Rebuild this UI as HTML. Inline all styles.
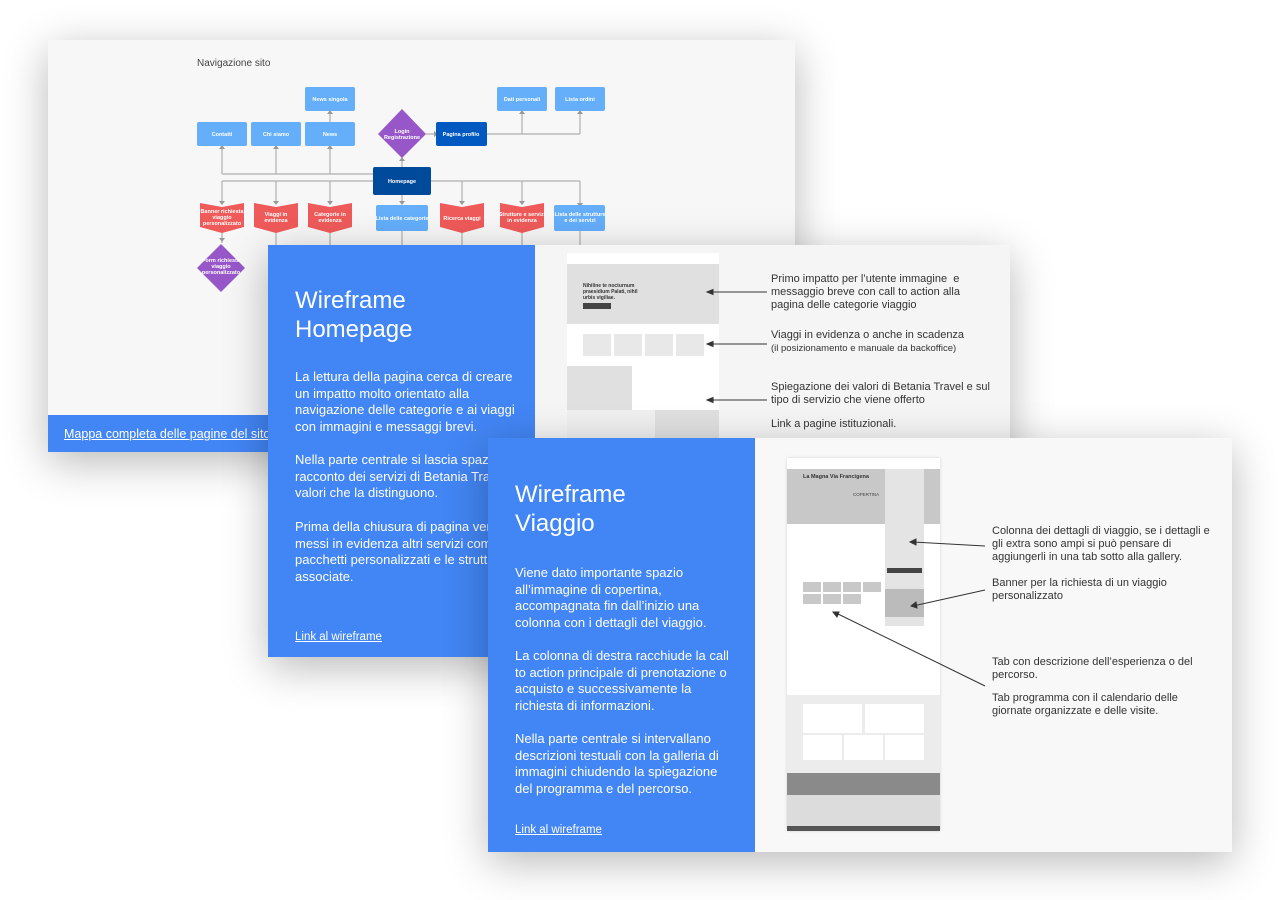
<!DOCTYPE html>
<html><head><meta charset="utf-8"><style>
body{margin:0;width:1280px;height:900px;background:#fff;position:relative;overflow:hidden;font-family:"Liberation Sans",sans-serif}
.card{position:absolute;box-shadow:0 10px 40px rgba(0,0,0,0.28)}
.blue{position:absolute;background:#4285f4;color:#fff;overflow:hidden}
.blue h1{position:absolute;margin:0;font-weight:normal;font-size:24px;line-height:29px}
.blue p{position:absolute;margin:0;font-size:13px;line-height:16.5px;width:215px}
.blue a{position:absolute;color:#fff;text-decoration:underline;font-size:11.5px}
.ann{position:absolute;font-size:11px;line-height:13px;color:#333}
.g{position:absolute;background:#d9d9d9}
.w{position:absolute;background:#fff}
</style></head><body>

<!-- Card 1 -->
<div class="card" style="left:48px;top:40px;width:747px;height:412px;background:#f7f7f7">
<svg width="747" height="412" style="position:absolute;left:0;top:0" font-family="Liberation Sans" font-size="5.5" font-weight="bold" fill="#fff" text-anchor="middle">
<g transform="translate(-48,-40)" stroke="#b0b0b0" stroke-width="1.2" fill="none">
<path d="M222 174H373M276 174V148M330 174V148M222 174V148M330 122V113M402 167V160M426 134H434M487 134H580M522 134V113M580 134V113"/>
<path d="M222 181H580M222 181V203M276 181V203M330 181V203M402 195V203M462 181V203M522 181V203M580 181V205M222 231V243M276 231V245M330 231V245M402 231V245M462 231V245M522 231V245M580 231V245"/>
</g>
<g transform="translate(-48,-40)" fill="#999">
<path d="M219 149h6l-3 -4zM273 149h6l-3 -4zM327 149h6l-3 -4zM327 114h6l-3 -4zM399 161h6l-3 -4zM519 114h6l-3 -4zM577 114h6l-3 -4zM434 131v6l4 -3zM219 201h6l-3 4zM273 201h6l-3 4zM327 201h6l-3 4zM399 201h6l-3 4zM459 201h6l-3 4zM519 201h6l-3 4zM577 203h6l-3 4zM219 238h6l-3 4z"/>
</g>
<g transform="translate(-48,-40)">
<text x="197" y="66" font-size="10" font-weight="normal" fill="#444" text-anchor="start">Navigazione sito</text>
<rect x="305" y="87" width="50" height="24" rx="2" fill="#64aefa"/><text x="330" y="101">News singola</text>
<rect x="197" y="122" width="50" height="24" rx="2" fill="#64aefa"/><text x="222" y="136">Contatti</text>
<rect x="251" y="122" width="50" height="24" rx="2" fill="#64aefa"/><text x="276" y="136">Chi siamo</text>
<rect x="305" y="122" width="50" height="24" rx="2" fill="#64aefa"/><text x="330" y="136">News</text>
<path d="M402 109L426 134L402 158L378 134Z" fill="#9757c9"/><text x="402" y="133">Login</text><text x="402" y="139">Registrazione</text>
<rect x="436" y="122" width="51" height="24" rx="2" fill="#0059c1"/><text x="461" y="136">Pagina profilo</text>
<rect x="497" y="87" width="50" height="24" rx="2" fill="#64aefa"/><text x="522" y="101">Dati personali</text>
<rect x="555" y="87" width="50" height="24" rx="2" fill="#64aefa"/><text x="580" y="101">Lista ordini</text>
<rect x="373" y="167" width="58" height="28" rx="2" fill="#004a9c"/><text x="402" y="183">Homepage</text>
<path d="M200 203L222 207L244 203V227L222 233L200 227Z" fill="#ef5a5a"/><text x="222" y="213">Banner richiesta</text><text x="222" y="219">viaggio</text><text x="222" y="225">personalizzato</text>
<path d="M254 203L276 207L298 203V227L276 233L254 227Z" fill="#ef5a5a"/><text x="276" y="216">Viaggi in</text><text x="276" y="222">evidenza</text>
<path d="M308 203L330 207L352 203V227L330 233L308 227Z" fill="#ef5a5a"/><text x="330" y="216">Categorie in</text><text x="330" y="222">evidenza</text>
<rect x="376" y="205" width="52" height="26" rx="2" fill="#64aefa"/><text x="402" y="220">Lista delle categorie</text>
<path d="M440 203L462 207L484 203V227L462 233L440 227Z" fill="#ef5a5a"/><text x="462" y="220">Ricerca viaggi</text>
<path d="M500 203L522 207L544 203V227L522 233L500 227Z" fill="#ef5a5a"/><text x="522" y="216">Strutture e servizi</text><text x="522" y="222">in evidenza</text>
<rect x="554" y="205" width="51" height="26" rx="2" fill="#64aefa"/><text x="580" y="216">Lista delle strutture</text><text x="580" y="222">e dei servizi</text>
<path d="M221 244L245 268L221 292L197 268Z" fill="#9757c9"/><text x="221" y="262">Form richiesta</text><text x="221" y="268">viaggio</text><text x="221" y="274">personalizzato</text>
</g></svg>
<div style="position:absolute;left:0;top:375px;width:747px;height:37px;background:#4285f4"></div>
<a style="position:absolute;left:16px;top:387px;color:#fff;font-size:12.5px;text-decoration:underline">Mappa completa delle pagine del sito</a>
</div>

<!-- Card 2 -->
<div class="card" style="left:268px;top:245px;width:742px;height:412px;background:#f5f5f5">
<div class="blue" style="left:0;top:0;width:267px;height:412px">
<h1 style="left:27px;top:41px">Wireframe<br>Homepage</h1>
<p style="left:27px;top:124px;width:232px">La lettura della pagina cerca di creare un impatto molto orientato alla navigazione delle categorie e ai viaggi con immagini e messaggi brevi.</p>
<p style="left:27px;top:207px;width:260px">Nella parte centrale si lascia spazio al racconto dei servizi di Betania Travel e dei valori che la distinguono.</p>
<p style="left:27px;top:274px;width:250px">Prima della chiusura di pagina vengono messi in evidenza altri servizi come i pacchetti personalizzati e le strutture associate.</p>
<a style="left:27px;top:386px">Link al wireframe</a>
</div>
<div style="position:absolute;left:267px;top:0;width:475px;height:412px;background:#f5f5f5"></div>
<div class="w" style="left:299px;top:8px;width:152px;height:187px">
<div class="g" style="left:0;top:11px;width:152px;height:60px;background:#e0e0e0"></div>
<div style="position:absolute;left:16px;top:30px;font-size:5px;font-weight:bold;color:#333;line-height:6px">Nihiline te nocturnum<br>praesidium Palati, nihil<br>urbis vigiliae.</div>
<div style="position:absolute;left:16px;top:50px;width:28px;height:6px;background:#444"></div>
<div class="g" style="left:16px;top:81px;width:28px;height:22px;background:#e8e8e8"></div>
<div class="g" style="left:47px;top:81px;width:28px;height:22px;background:#e8e8e8"></div>
<div class="g" style="left:78px;top:81px;width:28px;height:22px;background:#e8e8e8"></div>
<div class="g" style="left:109px;top:81px;width:28px;height:22px;background:#e8e8e8"></div>
<div class="g" style="left:0;top:113px;width:65px;height:44px;background:#e0e0e0"></div>
<div class="g" style="left:0;top:157px;width:152px;height:30px;background:#f0f0f0"></div>
<div class="g" style="left:88px;top:157px;width:64px;height:30px;background:#e0e0e0"></div>
</div>
<svg width="742" height="412" style="position:absolute;left:0;top:0"><g stroke="#333" stroke-width="1" fill="#333">
<path d="M442 47H499M442 99H499M442 155H499"/><path d="M439 47l6-2.5v5zM439 99l6-2.5v5zM439 155l6-2.5v5z"/></g></svg>
<div class="ann" style="left:503px;top:28px">Primo impatto per l’utente immagine &nbsp;e<br>messaggio breve con call to action alla<br>pagina delle categorie viaggio</div>
<div class="ann" style="left:503px;top:84px">Viaggi in evidenza o anche in scadenza<br><span style="font-size:9.5px">(il posizionamento e manuale da backoffice)</span></div>
<div class="ann" style="left:503px;top:136px">Spiegazione dei valori di Betania Travel e sul<br>tipo di servizio che viene offerto</div>
<div class="ann" style="left:503px;top:173px">Link a pagine istituzionali.</div>
</div>

<!-- Card 3 -->
<div class="card" style="left:488px;top:438px;width:744px;height:414px;background:#f8f8f8">
<div class="blue" style="left:0;top:0;width:267px;height:414px">
<h1 style="left:27px;top:42px">Wireframe<br>Viaggio</h1>
<p style="left:27px;top:127px;width:205px">Viene dato importante spazio all’immagine di copertina, accompagnata fin dall’inizio una colonna con i dettagli del viaggio.</p>
<p style="left:27px;top:210px;width:215px">La colonna di destra racchiude la call to action principale di prenotazione o acquisto e successivamente la richiesta di informazioni.</p>
<p style="left:27px;top:293px;width:205px">Nella parte centrale si intervallano descrizioni testuali con la galleria di immagini chiudendo la spiegazione del programma e del percorso.</p>
<a style="left:27px;top:386px">Link al wireframe</a>
</div>
<div class="w" style="left:299px;top:20px;width:153px;height:373px;box-shadow:0 0 3px rgba(0,0,0,.15)">
<div class="g" style="left:0;top:11px;width:153px;height:55px;background:#c8c8c8"></div>
<div style="position:absolute;left:16px;top:16px;font-size:5.5px;font-weight:bold;color:#333">La Magna Via Francigena</div>
<div style="position:absolute;left:66px;top:34px;font-size:4.5px;color:#444">COPERTINA</div>
<div class="g" style="left:98px;top:11px;width:39px;height:157px;background:#e4e4e4"></div>
<div class="g" style="left:100px;top:110px;width:35px;height:5px;background:#444"></div>
<div class="g" style="left:98px;top:131px;width:39px;height:28px;background:#bbb"></div>
<div class="g" style="left:16px;top:124px;width:18px;height:10px;background:#c8c8c8"></div>
<div class="g" style="left:36px;top:124px;width:18px;height:10px;background:#c8c8c8"></div>
<div class="g" style="left:56px;top:124px;width:18px;height:10px;background:#c8c8c8"></div>
<div class="g" style="left:76px;top:124px;width:18px;height:10px;background:#c8c8c8"></div>
<div class="g" style="left:16px;top:136px;width:18px;height:10px;background:#c8c8c8"></div>
<div class="g" style="left:36px;top:136px;width:18px;height:10px;background:#c8c8c8"></div>
<div class="g" style="left:56px;top:136px;width:18px;height:10px;background:#c8c8c8"></div>
<div class="g" style="left:0;top:237px;width:153px;height:78px;background:#ececec"></div>
<div class="w" style="left:16px;top:246px;width:59px;height:29px"></div>
<div class="w" style="left:78px;top:246px;width:59px;height:29px"></div>
<div class="w" style="left:16px;top:277px;width:39px;height:25px"></div>
<div class="w" style="left:57px;top:277px;width:39px;height:25px"></div>
<div class="w" style="left:98px;top:277px;width:39px;height:25px"></div>
<div class="g" style="left:0;top:315px;width:153px;height:22px;background:#8a8a8a"></div>
<div class="g" style="left:0;top:337px;width:153px;height:31px;background:#dcdcdc"></div>
<div class="g" style="left:0;top:368px;width:153px;height:5px;background:#555"></div>
</div>
<svg width="744" height="414" style="position:absolute;left:0;top:0"><g stroke="#333" stroke-width="1" fill="#333">
<path d="M425 104L497 108M425 168L497 152M348 175L497 248"/>
<path d="M422 104l6-3v6zM423 168l5-4 1 6zM345 174l6 0-2 5z"/></g></svg>
<div class="ann" style="left:504px;top:87px">Colonna dei dettagli di viaggio, se i dettagli e<br>gli extra sono ampi si può pensare di<br>aggiungerli in una tab sotto alla gallery.</div>
<div class="ann" style="left:504px;top:139px">Banner per la richiesta di un viaggio<br>personalizzato</div>
<div class="ann" style="left:504px;top:218px">Tab con descrizione dell’esperienza o del<br>percorso.</div>
<div class="ann" style="left:504px;top:254px">Tab programma con il calendario delle<br>giornate organizzate e delle visite.</div>
</div>
</body></html>
